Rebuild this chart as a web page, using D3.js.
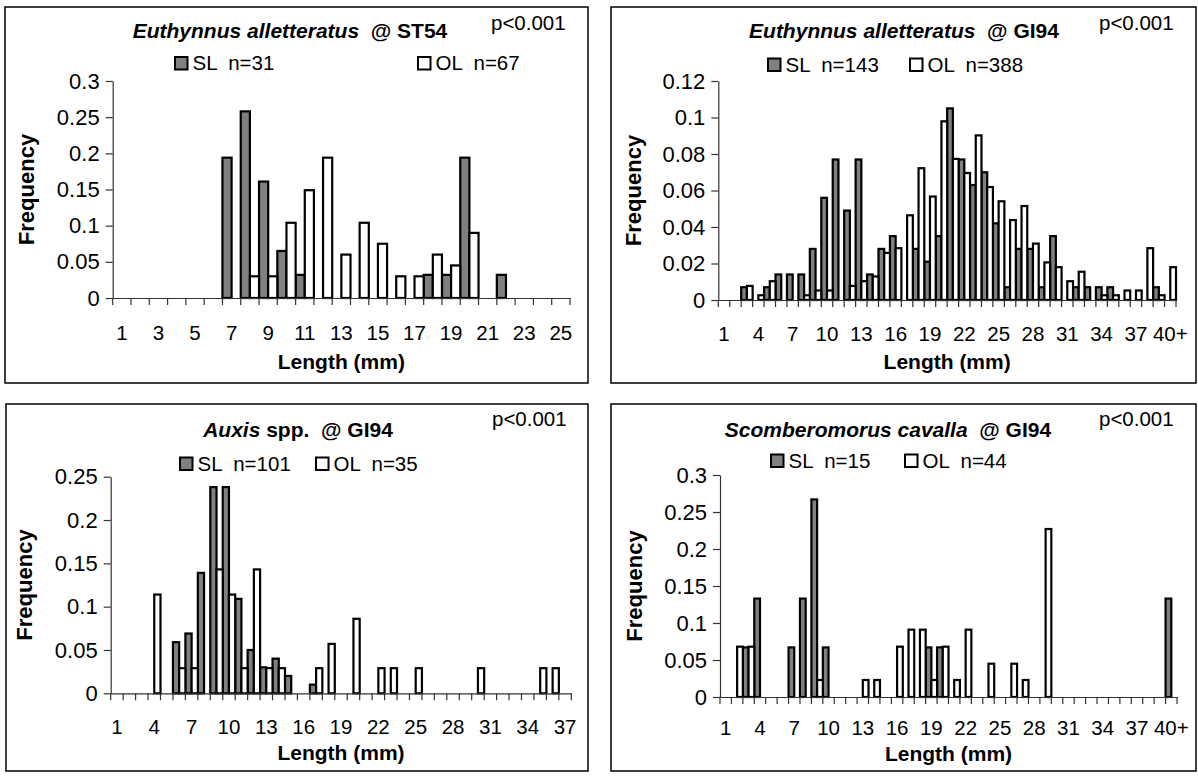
<!DOCTYPE html>
<html>
<head>
<meta charset="utf-8">
<script src="https://cdn.jsdelivr.net/npm/d3@7"></script>
<style>
  html, body { margin: 0; padding: 0; background: #fff; }
  svg text { font-family: "Liberation Sans", Arial, sans-serif; fill: #000; }
</style>
</head>
<body>
<svg id="chart" width="1198" height="776"></svg>
<script>
// ---- Length classes (mm) ----
const lengthsST54 = ["1","2","3","4","5","6","7","8","9","10","11","12","13","14","15","16","17","18","19","20","21","22","23","24","25"];
const lengthsGI94 = ["1","2","3","4","5","6","7","8","9","10","11","12","13","14","15","16","17","18","19","20",
                     "21","22","23","24","25","26","27","28","29","30","31","32","33","34","35","36","37","38","39","40+"];
const lengthsAuxis = ["1","2","3","4","5","6","7","8","9","10","11","12","13","14","15","16","17","18","19","20",
                      "21","22","23","24","25","26","27","28","29","30","31","32","33","34","35","36","37"];

// ---- Relative frequencies: SL (gray) and OL (white) ----
const eaST54_SL = [0,0,0,0,0,0,0.194,0.258,0.161,0.065,0.032,0,0,0,0,0,0,0.032,0.032,0.194,0,0.032,0,0,0];
const eaST54_OL = [0,0,0,0,0,0,0,0.030,0.030,0.104,0.149,0.194,0.060,0.104,0.075,0.030,0.030,0.060,0.045,0.090,0,0,0,0,0];

const eaGI94_SL = [0,0,0.007,0,0.007,0.014,0.014,0.014,0.028,0.056,0.077,0.049,0.077,0.014,0.028,0.035,0,0.028,0.021,0.035,
                   0.105,0.077,0.063,0.070,0.042,0.007,0.028,0.028,0.007,0.035,0,0.007,0.007,0.007,0.007,0,0,0,0.007,0];
const eaGI94_OL = [0,0,0.0077,0.0026,0.0103,0,0,0.0026,0.0052,0.0052,0,0.0077,0.0103,0.0129,0.0258,0.0284,0.0464,0.0722,0.0567,0.0979,
                   0.0773,0.0696,0.0902,0.0619,0.0541,0.0438,0.0515,0.0309,0.0206,0.0180,0.0103,0.0155,0,0.0026,0.0026,0.0052,0.0052,0.0284,0.0026,0.0180];

const auxis_SL = [0,0,0,0,0,0.059,0.069,0.139,0.238,0.238,0.109,0.050,0.030,0.040,0.020,0,0.010,0,0,0,
                  0,0,0,0,0,0,0,0,0,0,0,0,0,0,0,0,0];
const auxis_OL = [0,0,0,0.114,0,0.029,0.029,0,0.143,0.114,0.029,0.143,0.029,0.029,0,0,0.029,0.057,0,0.086,
                  0,0.029,0.029,0,0.029,0,0,0,0,0.029,0,0,0,0,0.029,0.029,0];

const scomb_SL = [0,0,0.067,0.133,0,0,0.067,0.133,0.267,0.067,0,0,0,0,0,0,0,0,0.067,0.067,
                  0,0,0,0,0,0,0,0,0,0,0,0,0,0,0,0,0,0,0,0.133];
const scomb_OL = [0,0.068,0.068,0,0,0,0,0,0.023,0,0,0,0.023,0.023,0,0.068,0.091,0.091,0.023,0.068,
                  0.023,0.091,0,0.045,0,0.045,0.023,0,0.227,0,0,0,0,0,0,0,0,0,0,0];

// ---- Axis ticks ----
const yTicks030 = [0,0.05,0.1,0.15,0.2,0.25,0.3];
const yTicks012 = [0,0.02,0.04,0.06,0.08,0.1,0.12];
const yTicks025 = [0,0.05,0.1,0.15,0.2,0.25];
const xLabelsST54 = ["1","3","5","7","9","11","13","15","17","19","21","23","25"];
const xLabelsGI94 = ["1","4","7","10","13","16","19","22","25","28","31","34","37","40+"];
const xLabelsAuxis = ["1","4","7","10","13","16","19","22","25","28","31","34","37"];

// ---- Panel layout ----
const panels = [
  { box:[5,7,588,383], px:[112.7,570], py:[81,298], yMax:0.3, yTicks:yTicks030,
    cats:lengthsST54, sl:eaST54_SL, ol:eaST54_OL, xLabels:xLabelsST54, tickPad:27, lenY:369,
    title:[{t:"Euthynnus alletteratus", it:true},{t:"  @ ST54", it:false}], titleX:290, titleY:38,
    legY:57, slX:175, olX:418, slText:"SL  n=31", olText:"OL  n=67", pX:491, pY:30, freqX:34 },
  { box:[611,7,1196,383], px:[718.3,1176], py:[81,300], yMax:0.12, yTicks:yTicks012,
    cats:lengthsGI94, sl:eaGI94_SL, ol:eaGI94_OL, xLabels:xLabelsGI94, tickPad:26, lenY:369,
    title:[{t:"Euthynnus alletteratus", it:true},{t:"  @ GI94", it:false}], titleX:904, titleY:38,
    legY:58.5, slX:768, olX:910, slText:"SL  n=143", olText:"OL  n=388", pX:1099, pY:30, freqX:641 },
  { box:[6,404,588,771], px:[110.7,571.3], py:[476.7,693.3], yMax:0.25, yTicks:yTicks025,
    cats:lengthsAuxis, sl:auxis_SL, ol:auxis_OL, xLabels:xLabelsAuxis, tickPad:26, lenY:760,
    title:[{t:"Auxis", it:true},{t:" spp.  @ GI94", it:false}], titleX:298, titleY:437,
    legY:457.5, slX:180, olX:316, slText:"SL  n=101", olText:"OL  n=35", pX:492, pY:426, freqX:32 },
  { box:[611,404,1196,771], px:[720,1177], py:[475,697], yMax:0.3, yTicks:yTicks030,
    cats:lengthsGI94, sl:scomb_SL, ol:scomb_OL, xLabels:xLabelsGI94, tickPad:23, lenY:761,
    title:[{t:"Scomberomorus cavalla", it:true},{t:"  @ GI94", it:false}], titleX:888, titleY:437,
    legY:454.5, slX:771, olX:905, slText:"SL  n=15", olText:"OL  n=44", pX:1099, pY:426, freqX:642 }
];

const SL_FILL = "#808080";
const FONT = "Liberation Sans, Arial, sans-serif";
const svg = d3.select("#chart");

panels.forEach(p => {
  const g = svg.append("g");

  // frame
  g.append("rect")
    .attr("x", p.box[0]).attr("y", p.box[1])
    .attr("width", p.box[2] - p.box[0]).attr("height", p.box[3] - p.box[1])
    .attr("fill", "#fff").attr("stroke", "#000").attr("stroke-width", 1.5);

  const x = d3.scaleBand().domain(p.cats).range(p.px).paddingInner(0).paddingOuter(0);
  const sub = d3.scaleBand().domain(["SL","OL"]).range([0, x.bandwidth()]).padding(0);
  const y = d3.scaleLinear().domain([0, p.yMax]).range([p.py[1], p.py[0]]);

  // bars
  const rows = p.cats.map((c, i) => ({ c, SL: p.sl[i], OL: p.ol[i] }));
  ["SL","OL"].forEach(key => {
    g.append("g").selectAll("rect")
      .data(rows.filter(r => r[key] > 0))
      .join("rect")
      .attr("x", r => x(r.c) + sub(key))
      .attr("width", sub.bandwidth())
      .attr("y", r => y(r[key]))
      .attr("height", r => y(0) - y(r[key]))
      .attr("fill", key === "SL" ? SL_FILL : "#fff")
      .attr("stroke", "#000").attr("stroke-width", 2.2);
  });

  // y axis
  const yAxis = g.append("g")
    .attr("transform", `translate(${p.px[0]},0)`)
    .call(d3.axisLeft(y).tickValues(p.yTicks).tickSize(7).tickSizeOuter(0).tickPadding(6)
          .tickFormat(d => String(d)));
  yAxis.selectAll("path, line").attr("stroke", "#333").attr("stroke-width", 1.2);
  yAxis.selectAll("text").attr("font-size", 22).attr("font-family", FONT);

  // x axis: baseline plus boundary ticks between length classes
  const xAxis = g.append("g")
    .attr("transform", `translate(0,${y(0)})`)
    .call(d3.axisBottom(x).tickValues(p.xLabels).tickSize(0).tickPadding(p.tickPad));
  xAxis.select("path.domain").attr("stroke", "#333").attr("stroke-width", 1.2);
  xAxis.selectAll("text").attr("font-size", 20.5).attr("font-family", FONT);
  const bounds = p.cats.map(c => x(c)).concat([x(p.cats[p.cats.length - 1]) + x.bandwidth()]);
  xAxis.append("g").selectAll("line")
    .data(bounds).join("line")
    .attr("x1", d => d).attr("x2", d => d)
    .attr("y1", 0).attr("y2", 7)
    .attr("stroke", "#333").attr("stroke-width", 1.2);

  // axis titles
  g.append("text")
    .attr("transform", `translate(${p.freqX},${(p.py[0] + p.py[1]) / 2}) rotate(-90)`)
    .attr("text-anchor", "middle")
    .attr("font-size", 22).attr("font-weight", "bold")
    .text("Frequency");
  g.append("text")
    .attr("x", (p.px[0] + p.px[1]) / 2).attr("y", p.lenY)
    .attr("text-anchor", "middle")
    .attr("font-size", 21).attr("font-weight", "bold")
    .text("Length (mm)");

  // title
  const tt = g.append("text")
    .attr("x", p.titleX).attr("y", p.titleY)
    .attr("text-anchor", "middle")
    .attr("font-size", 21).attr("font-weight", "bold")
    .style("white-space", "pre");
  p.title.forEach(part => {
    tt.append("tspan").attr("font-style", part.it ? "italic" : "normal").text(part.t);
  });

  // p-value
  g.append("text")
    .attr("x", p.pX).attr("y", p.pY)
    .attr("font-size", 20.5)
    .text("p<0.001");

  // legend
  const sq = 12.5;
  [[p.slX, SL_FILL, p.slText], [p.olX, "#fff", p.olText]].forEach(([lx, fill, label]) => {
    g.append("rect")
      .attr("x", lx).attr("y", p.legY)
      .attr("width", sq).attr("height", sq)
      .attr("fill", fill).attr("stroke", "#000").attr("stroke-width", 2);
    g.append("text")
      .attr("x", lx + sq + 5).attr("y", p.legY + sq + 0.5)
      .attr("font-size", 20.5)
      .style("white-space", "pre")
      .text(label);
  });
});
</script>
</body>
</html>
